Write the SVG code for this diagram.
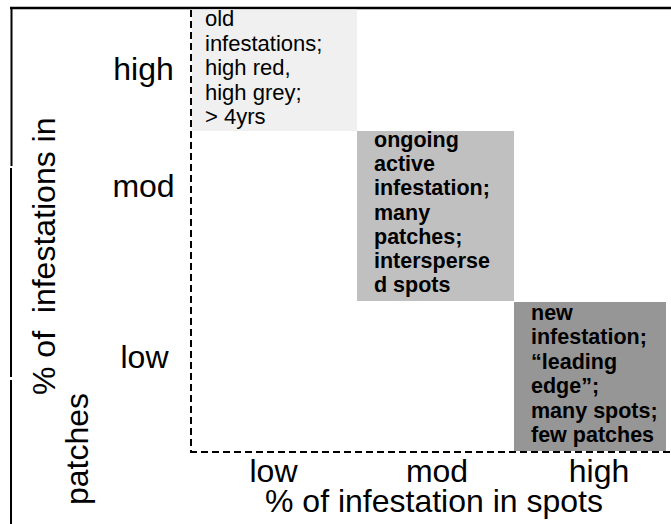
<svg xmlns="http://www.w3.org/2000/svg" width="671" height="524" viewBox="0 0 671 524">
<style>
.ax{font-family:"Liberation Sans",Arial,sans-serif;font-size:32px;fill:#000}
.bx{font-family:"Liberation Sans",Arial,sans-serif;font-size:22px;fill:#000}
.b{font-weight:bold;font-size:21.5px}
.dash{stroke:#000;stroke-width:2;stroke-dasharray:7,4;fill:none}
.frame{stroke:#000;fill:none}
</style>
<rect width="671" height="524" fill="#fff"/>
<g id="frame">
<line class="frame" x1="10" y1="8" x2="671" y2="8" stroke-width="2.5"/>
<line class="frame" x1="11.5" y1="8" x2="11.5" y2="166" stroke-width="2"/>
<line class="frame" x1="11" y1="168" x2="11" y2="377" stroke-width="2"/>
<line class="frame" x1="11" y1="380" x2="11" y2="524" stroke-width="2"/>
</g>
<g id="box-old">
<rect x="192" y="9.5" width="165" height="121.5" fill="#f0f0f0"/>
<text class="bx" x="205"><tspan x="205" y="26">old</tspan><tspan x="205" y="50.5">infestations;</tspan><tspan x="205" y="75">high red,</tspan><tspan x="205" y="99.5">high grey;</tspan><tspan x="205" y="124">&gt; 4yrs</tspan></text>
</g>
<g id="box-ongoing">
<rect x="357" y="131" width="157" height="170" fill="#c0c0c0"/>
<text class="bx b" x="374"><tspan x="374" y="147">ongoing</tspan><tspan x="374" y="171.2">active</tspan><tspan x="374" y="195.4">infestation;</tspan><tspan x="374" y="219.6">many</tspan><tspan x="374" y="243.8">patches;</tspan><tspan x="374" y="268">intersperse</tspan><tspan x="374" y="292.2">d spots</tspan></text>
</g>
<g id="box-new">
<rect x="514" y="302" width="152" height="149" fill="#969696"/>
<text class="bx b" x="531"><tspan x="531" y="320">new</tspan><tspan x="531" y="344.4">infestation;</tspan><tspan x="531" y="368.8">“leading</tspan><tspan x="531" y="393.2">edge”;</tspan><tspan x="531" y="417.6">many spots;</tspan><tspan x="531" y="442">few patches</tspan></text>
</g>
<g id="connectors">
<line class="dash" x1="191" y1="10" x2="191" y2="452"/>
<line class="dash" x1="190" y1="452" x2="671" y2="452"/>
</g>
<g id="y-labels">
<text class="ax" x="143.5" y="80" text-anchor="middle">high</text>
<text class="ax" x="143.5" y="197" text-anchor="middle">mod</text>
<text class="ax" x="144.5" y="368" text-anchor="middle">low</text>
</g>
<g id="x-labels">
<text class="ax" x="273.5" y="482" text-anchor="middle">low</text>
<text class="ax" x="437" y="482" text-anchor="middle">mod</text>
<text class="ax" x="599" y="482" text-anchor="middle">high</text>
<text class="ax" x="434" y="512" text-anchor="middle">% of infestation in spots</text>
</g>
<g id="y-title">
<text class="ax" transform="translate(55 395) rotate(-90)" xml:space="preserve">% of  infestations in</text>
<text class="ax" transform="translate(88 505) rotate(-90)">patches</text>
</g>
</svg>
